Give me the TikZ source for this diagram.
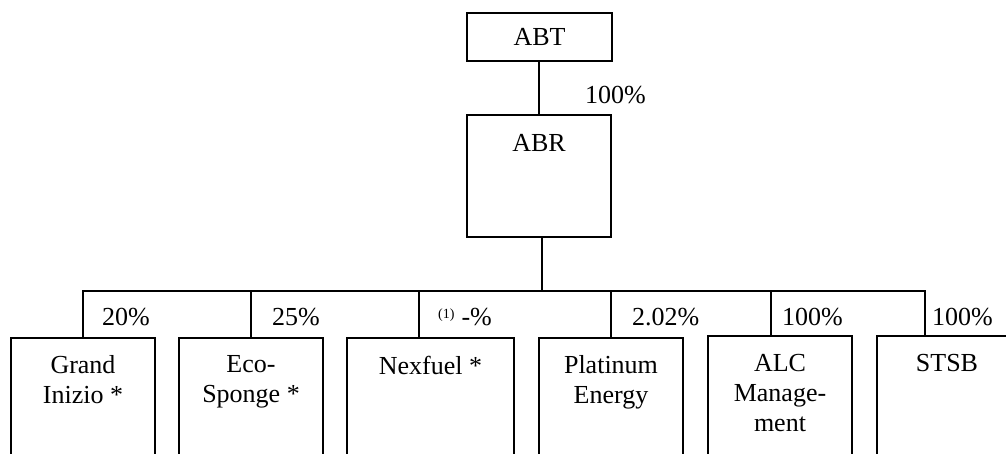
\documentclass[tikz,border=0pt]{standalone}
\usepackage{fontspec}
\setmainfont{Liberation Serif}
\begin{document}
\begin{tikzpicture}[x=1pt,y=-1pt,
  box/.style={draw, line width=2.5pt, inner sep=0pt},
  txt/.style={font=\fontsize{26}{30}\selectfont, align=center, inner sep=0pt},
  pct/.style={txt, anchor=west},
  conn/.style={draw, line width=2.5pt, line join=miter}]
\useasboundingbox (0,0) rectangle (1006,453);
\clip (0,0) rectangle (1006,453);
% top boxes
\node[box, txt, minimum width=145pt, minimum height=48pt] (abt) at (539.5,37) {ABT};
\node[box, minimum width=144pt, minimum height=122pt,
  label={[txt, anchor=north, yshift=-20pt]north:ABR}] (abr) at (539,176) {};
% bottom boxes
\newcommand{\lowbox}[5]{%
  \node[box, minimum width=#3pt, minimum height=150pt,
    label={[txt, anchor=north, yshift=-19pt]north:#5}] (#1) at (#2,#4) {};}
\lowbox{gi}{83}{144}{413}{Grand\\Inizio *}
\lowbox{eco}{251}{144}{413}{Eco-\\Sponge *}
\lowbox{nex}{430.5}{167}{413}{Nexfuel *}
\lowbox{plat}{611}{144}{413}{Platinum\\Energy}
\lowbox{alc}{780}{144}{411}{ALC\\Manage-\\ment}
\lowbox{stsb}{947}{140}{411}{STSB}
% connectors
\coordinate (t) at (539,0);
\coordinate (j) at (542,291);
\coordinate (d1) at (83,291);
\coordinate (d2) at (251,291);
\coordinate (d3) at (419,291);
\coordinate (d4) at (611,291);
\coordinate (d5) at (771,291);
\coordinate (d6) at (925,291);
\draw[conn] (t |- abt.south) -- (t |- abr.north);
\draw[conn] (j |- abr.south) -- (j);
\draw[conn] (d1 |- gi.north) -- (d1) -- (d6) -- (d6 |- stsb.north);
\draw[conn] (d2) -- (d2 |- eco.north);
\draw[conn] (d3) -- (d3 |- nex.north);
\draw[conn] (d4) -- (d4 |- plat.north);
\draw[conn] (d5) -- (d5 |- alc.north);
% percentages
\node[pct] (p0) at (585,95) {100\%};
\node[pct] (p1) at (102,317) {20\%};
\node[pct] (p2) at (272,317) {25\%};
\node[pct] (p3) at (438,317) {{\fontsize{14}{14}\selectfont\raisebox{7pt}{(1)}}\hspace{7pt}-\%};
\node[pct] (p4) at (632,317) {2.02\%};
\node[pct] (p5) at (782,317) {100\%};
\node[pct] (p6) at (932,317) {100\%};
\end{tikzpicture}
\end{document}
